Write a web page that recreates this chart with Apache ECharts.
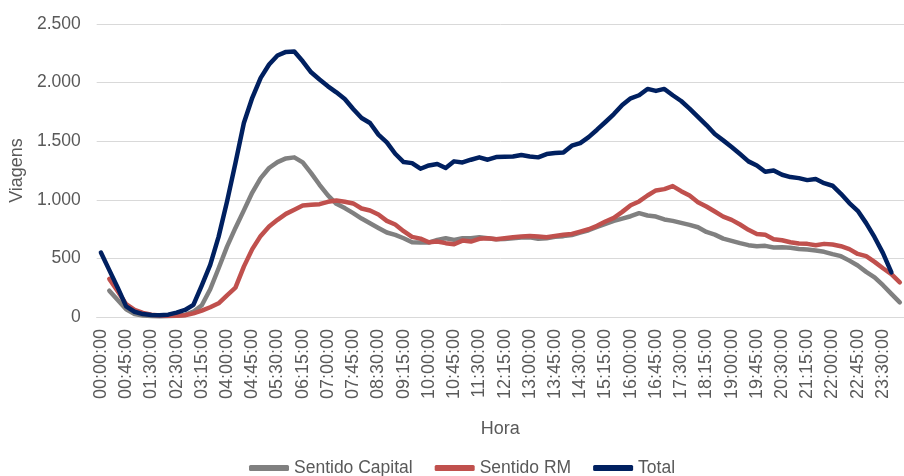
<!DOCTYPE html>
<html>
<head>
<meta charset="utf-8">
<script src="https://cdn.jsdelivr.net/npm/echarts@6/dist/echarts.min.js"></script>
<style>
html,body{margin:0;padding:0;background:#fff;}
#chart{width:904px;height:476px;}
</style>
</head>
<body>
<div id="chart"></div>
<script>
const categories = [
"00:00:00","00:15:00","00:30:00","00:45:00","01:00:00","01:15:00","01:30:00","01:45:00","02:15:00","02:30:00",
"02:45:00","03:00:00","03:15:00","03:30:00","03:45:00","04:00:00","04:15:00","04:30:00","04:45:00","05:00:00",
"05:15:00","05:30:00","05:45:00","06:00:00","06:15:00","06:30:00","06:45:00","07:00:00","07:15:00","07:30:00",
"07:45:00","08:00:00","08:15:00","08:30:00","08:45:00","09:00:00","09:15:00","09:30:00","09:45:00","10:00:00",
"10:15:00","10:30:00","10:45:00","11:00:00","11:15:00","11:30:00","11:45:00","12:00:00","12:15:00","12:30:00",
"12:45:00","13:00:00","13:15:00","13:30:00","13:45:00","14:00:00","14:15:00","14:30:00","14:45:00","15:00:00",
"15:15:00","15:30:00","15:45:00","16:00:00","16:15:00","16:30:00","16:45:00","17:00:00","17:15:00","17:30:00",
"17:45:00","18:00:00","18:15:00","18:30:00","18:45:00","19:00:00","19:15:00","19:30:00","19:45:00","20:00:00",
"20:15:00","20:30:00","20:45:00","21:00:00","21:15:00","21:30:00","21:45:00","22:00:00","22:15:00","22:30:00",
"22:45:00","23:00:00","23:15:00","23:30:00","23:45:00","00:00:00"
];

const sentidoCapital = [
null,225,145,66,26,12,8,6,8,10,
18,45,100,237,416,600,760,910,1062,1185,
1271,1322,1353,1362,1319,1228,1128,1037,966,929,
886,840,800,760,721,701,672,638,635,635,
658,672,658,672,672,681,672,664,665,672,
678,680,667,672,685,690,700,720,740,768,
795,820,840,860,886,866,857,832,820,803,
786,766,726,703,669,650,630,613,604,607,
593,595,590,581,575,567,556,536,519,481,
439,385,339,271,197,125
];

const sentidoRM = [
null,325,220,110,60,35,20,12,10,10,
15,31,54,83,117,185,250,430,579,692,
772,829,880,915,951,957,963,983,994,983,
969,926,909,875,820,789,732,684,669,638,
644,630,621,652,644,667,672,664,672,681,
687,692,687,681,692,701,709,729,749,778,
815,846,897,954,986,1037,1080,1091,1117,1074,
1037,980,943,900,857,829,789,744,709,701,
664,655,638,627,624,613,624,618,604,579,
538,519,470,416,365,295
];

const total = [
550,400,250,90,45,25,17,15,20,37,
60,103,270,445,686,985,1314,1655,1870,2040,
2154,2231,2262,2265,2182,2088,2026,1968,1917,1860,
1775,1698,1655,1556,1490,1393,1322,1313,1265,1293,
1305,1271,1328,1319,1342,1362,1342,1365,1367,1370,
1382,1370,1362,1390,1399,1404,1462,1484,1535,1598,
1664,1732,1809,1866,1892,1946,1929,1946,1892,1843,
1778,1707,1638,1561,1507,1450,1390,1328,1293,1239,
1250,1214,1194,1185,1168,1177,1142,1120,1051,972,
906,801,681,545,380,null
];

const seriesNames = ["Sentido Capital", "Sentido RM", "Total"];
const seriesColors = ["#808080", "#C0504D", "#002060"];
const yTicks = { min: 0, max: 2500, step: 500 };

const FONT = "Liberation Sans, Arial, sans-serif";
const TXT = "#595959";

function fmt(v) {
  return String(v).replace(/\B(?=(\d{3})+(?!\d))/g, ".");
}

const chart = echarts.init(document.getElementById("chart"), null, { renderer: "canvas" });
const dataSets = [sentidoCapital, sentidoRM, total];

chart.setOption({
  animation: false,
  backgroundColor: "#ffffff",
  textStyle: { fontFamily: FONT },
  grid: { left: 96, top: 24, width: 814, height: 293, containLabel: false },
  legend: {
    left: 244, top: 454,
    itemWidth: 40, itemHeight: 6, itemGap: 22,
    icon: "roundRect",
    textStyle: { color: TXT, fontSize: 17.5, fontFamily: FONT },
    data: seriesNames
  },
  xAxis: {
    type: "category",
    data: categories,
    boundaryGap: true,
    axisLine: { show: true, lineStyle: { color: "#d9d9d9", width: 1 } },
    axisTick: { show: false },
    axisLabel: { rotate: 90, interval: 2, margin: 12, color: TXT, fontSize: 18, fontFamily: FONT },
    name: "Hora",
    nameLocation: "middle",
    nameGap: 103,
    nameTextStyle: { color: TXT, fontSize: 18, fontFamily: FONT }
  },
  yAxis: {
    type: "value",
    min: yTicks.min, max: yTicks.max, interval: yTicks.step,
    axisLine: { show: false },
    axisTick: { show: false },
    splitLine: { lineStyle: { color: "#d9d9d9", width: 1 } },
    axisLabel: { margin: 16, color: TXT, fontSize: 17.5, fontFamily: FONT, formatter: fmt },
    name: "Viagens",
    nameLocation: "middle",
    nameGap: 68,
    nameTextStyle: { color: TXT, fontSize: 18, fontFamily: FONT }
  },
  series: seriesNames.map((n, k) => ({
    name: n,
    type: "line",
    data: dataSets[k],
    symbol: "none",
    connectNulls: false,
    color: seriesColors[k],
    lineStyle: { width: 4.5, color: seriesColors[k], cap: "round", join: "round" },
    z: 2 + k
  }))
});
</script>
</body>
</html>
